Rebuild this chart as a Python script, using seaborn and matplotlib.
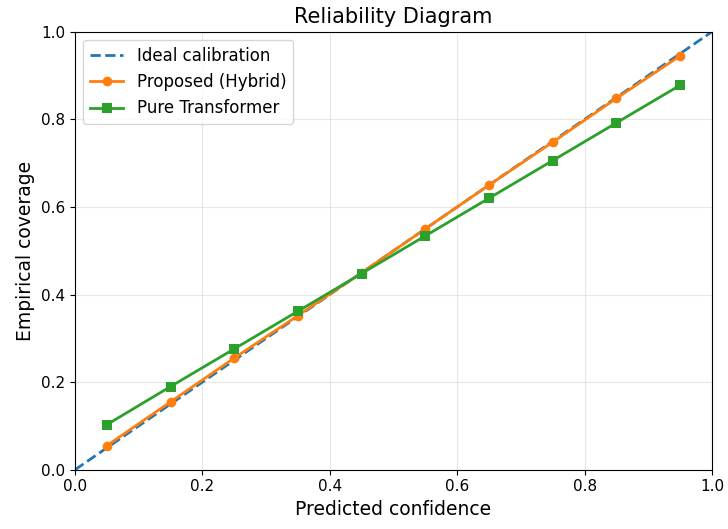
import matplotlib
matplotlib.use('Agg')
import matplotlib.pyplot as plt
import seaborn as sns
import pandas as pd

# Reliability data
ideal_x = [0.0, 1.0]
ideal_y = [0.0, 1.0]
bin_centers = [0.05, 0.15, 0.25, 0.35, 0.45, 0.55, 0.65, 0.75, 0.85, 0.95]
hybrid_cov = [0.055, 0.155, 0.255, 0.352, 0.450, 0.550, 0.650, 0.748, 0.848, 0.945]
transformer_cov = [0.103, 0.190, 0.276, 0.362, 0.448, 0.534, 0.620, 0.706, 0.792, 0.878]

df_h = pd.DataFrame({"conf": bin_centers, "cov": hybrid_cov})
df_t = pd.DataFrame({"conf": bin_centers, "cov": transformer_cov})

fig, ax = plt.subplots(figsize=(7.28, 5.29), dpi=100)

ax.plot(ideal_x, ideal_y, linestyle='--', color='tab:blue', linewidth=2, label='Ideal calibration')
sns.lineplot(data=df_h, x="conf", y="cov", ax=ax, color='tab:orange', marker='o',
             markersize=7, markeredgewidth=0, linewidth=2, label='Proposed (Hybrid)')
sns.lineplot(data=df_t, x="conf", y="cov", ax=ax, color='tab:green', marker='s',
             markersize=7, markeredgewidth=0, linewidth=2, label='Pure Transformer')

ax.set_xlim(0, 1)
ax.set_ylim(0, 1)
ax.grid(True, alpha=0.3)
ax.set_title("Reliability Diagram", fontsize=15)
ax.set_xlabel("Predicted confidence", fontsize=13.5)
ax.set_ylabel("Empirical coverage", fontsize=13.5)
ax.tick_params(labelsize=11)
ax.legend(loc='upper left', fontsize=12)

fig.subplots_adjust(left=0.103, right=0.978, bottom=0.112, top=0.94)
fig.savefig("out.png", dpi=100)
